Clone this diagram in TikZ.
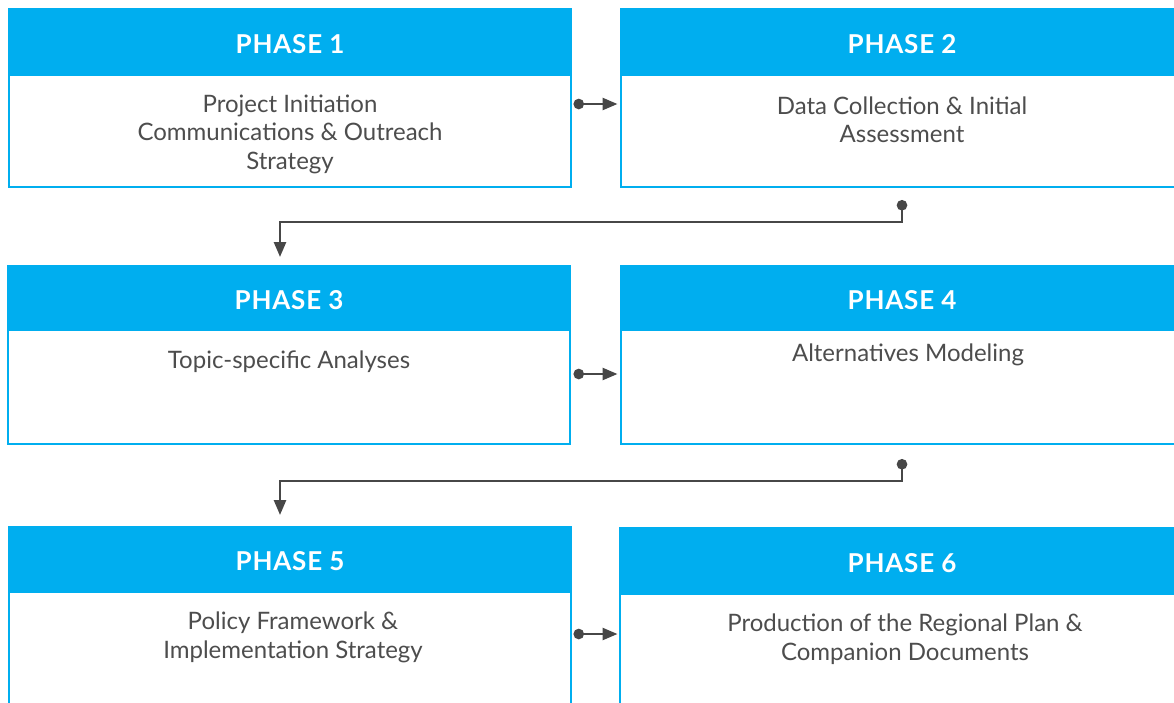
\documentclass[tikz,border=0pt]{standalone}
\usepackage{fontspec}
\setmainfont{Lato}
\usetikzlibrary{arrows.meta}
\definecolor{phaseblue}{HTML}{00AEEF}
\definecolor{txtgray}{HTML}{4D4D4D}
\definecolor{conngray}{HTML}{474747}
\tikzset{
  boxframe/.style={draw=phaseblue, line width=2pt, fill=white, rectangle, inner sep=0pt, outer sep=0pt, anchor=north west},
  headfill/.style={fill=phaseblue},
  phasetitle/.style={text=white, font=\fontsize{26}{30}\selectfont\bfseries\addfontfeature{LetterSpace=3}, inner sep=0pt},
  phasebody/.style={text=txtgray, font=\fontsize{24}{28.5}\selectfont, align=center, inner sep=0pt},
  conn/.style={draw=conngray, line width=2.5pt, {Circle[length=10.5pt]}-{Triangle[length=15pt,width=12pt]}},
}
\begin{document}
\begin{tikzpicture}[x=1pt,y=-1pt]
\useasboundingbox (0,0) rectangle (1174,702);
\clip (0,0) rectangle (1174,702);
% boxes
\node[boxframe, minimum width=561.5pt, minimum height=178pt] (b1) at (9,9) {};
\node[boxframe, minimum width=570pt, minimum height=178pt] (b2) at (620.5,9) {};
\node[boxframe, minimum width=562pt, minimum height=178pt] (b3) at (8,266) {};
\node[boxframe, minimum width=570pt, minimum height=178pt] (b4) at (620.5,266) {};
\node[boxframe, minimum width=561.5pt, minimum height=200pt] (b5) at (9,526.5) {};
\node[boxframe, minimum width=570pt, minimum height=200pt] (b6) at (619.5,528) {};
% headers
\fill[headfill] ([xshift=-1pt,yshift=1pt]b1.north west) rectangle ([xshift=1pt,yshift=-67pt]b1.north east);
\fill[headfill] ([xshift=-1pt,yshift=1pt]b2.north west) rectangle ([xshift=1pt,yshift=-67pt]b2.north east);
\fill[headfill] ([xshift=-1pt,yshift=1pt]b3.north west) rectangle ([xshift=1pt,yshift=-65pt]b3.north east);
\fill[headfill] ([xshift=-1pt,yshift=1pt]b4.north west) rectangle ([xshift=1pt,yshift=-65pt]b4.north east);
\fill[headfill] ([xshift=-1pt,yshift=1pt]b5.north west) rectangle ([xshift=1pt,yshift=-66pt]b5.north east);
\fill[headfill] ([xshift=-1pt,yshift=1pt]b6.north west) rectangle ([xshift=1pt,yshift=-67pt]b6.north east);
% titles
\node[phasetitle] (t1) at (290,44) {PHASE 1};
\node[phasetitle] (t2) at (902,44) {PHASE 2};
\node[phasetitle] (t3) at (289,300) {PHASE 3};
\node[phasetitle] (t4) at (902,300) {PHASE 4};
\node[phasetitle] (t5) at (290,561) {PHASE 5};
\node[phasetitle] (t6) at (902,563) {PHASE 6};
% bodies
\node[phasebody] (x1) at (290,134) {Project Initiation\\Communications \& Outreach\\Strategy};
\node[phasebody] (x2) at (902,120) {Data Collection \& Initial\\Assessment};
\node[phasebody] (x3) at (289,362) {Topic-specific Analyses};
\node[phasebody] (x4) at (908,355) {Alternatives Modeling};
\node[phasebody] (x5) at (293,637.5) {Policy Framework \&\\Implementation Strategy};
\node[phasebody] (x6) at (905,639) {Production of the Regional Plan \&\\Companion Documents};
% connector coordinates
\coordinate (c12s) at (573.5,104);
\coordinate (c34s) at (573.5,374);
\coordinate (c56s) at (573.5,634);
\coordinate (c23s) at (902,200);
\coordinate (c23e) at (280,257);
\coordinate (c45s) at (902,459);
\coordinate (c45e) at (280,515);
% connectors
\draw[conn] (c12s) -- ([xshift=-3pt]b2.west |- c12s);
\draw[conn] (c34s) -- ([xshift=-3pt]b4.west |- c34s);
\draw[conn] (c56s) -- ([xshift=-2pt]b6.west |- c56s);
\draw[conn] (c23s) -- ++(0,22) -| (c23e);
\draw[conn] (c45s) -- ++(0,22) -| (c45e);
\end{tikzpicture}
\end{document}
